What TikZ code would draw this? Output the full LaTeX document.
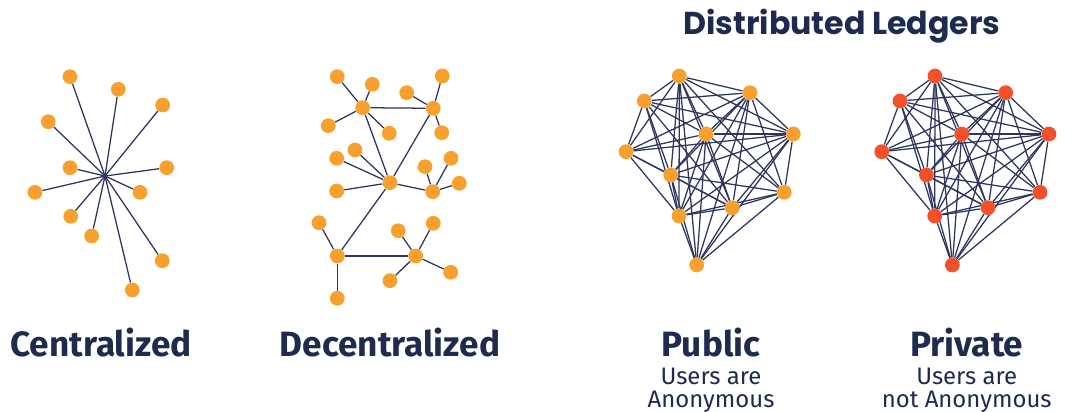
\documentclass[tikz,border=0pt]{standalone}
\usepackage{fontspec}
\setmainfont{Fira Sans}
\newfontfamily\headfont{Poppins}
\usepackage{tikz}
\usetikzlibrary{backgrounds}
\definecolor{navy}{HTML}{1E2B4F}
\definecolor{edgeblue}{HTML}{2C365E}
\definecolor{dotorange}{HTML}{F8A02E}
\definecolor{dotred}{HTML}{F4502A}
\tikzstyle{link} = [draw, edgeblue, line width=0.9pt]
\tikzstyle{dot} = [circle, fill=dotorange, inner sep=0, minimum size=10.5pt]
\tikzstyle{reddot} = [dot, fill=dotred]
\tikzstyle{title} = [navy, anchor=base, font=\bfseries\fontsize{25}{29}\selectfont]
\tikzstyle{subtitle} = [navy, anchor=base, font=\fontsize{17}{20}\selectfont]

\newcommand{\ledgergraph}[1]{%
\node at (679.3, 76) [#1] (l1) {};
\node at (750, 92.7) [#1] (l2) {};
\node at (644.3, 101) [#1] (l3) {};
\node at (706, 134) [#1] (l4) {};
\node at (793.3, 134) [#1] (l5) {};
\node at (626, 151.7) [#1] (l6) {};
\node at (670.7, 175) [#1] (l7) {};
\node at (784.3, 192.3) [#1] (l8) {};
\node at (732.3, 207.7) [#1] (l9) {};
\node at (679, 216) [#1] (l10) {};
\node at (696.7, 265) [#1] (l11) {};
\begin{pgfonlayer}{background}
\foreach \a/\b in {1/2,1/3,1/4,1/5,1/6,1/7,1/8,1/9,1/10,1/11,
  2/3,2/4,2/5,2/6,2/7,2/8,2/9,2/10,2/11,
  3/4,3/5,3/6,3/7,3/9,3/10,
  4/5,4/6,4/7,4/8,4/9,4/10,4/11,
  5/6,5/7,5/8,5/9,5/10,5/11,
  6/7,6/9,6/10,
  7/8,7/9,7/10,7/11,
  8/9,8/10,8/11,
  9/10,9/11,
  10/11}
  \path [link] (l\a) -- (l\b);
\end{pgfonlayer}}

\begin{document}
\begin{tikzpicture}[x=0.025cm, y=-0.025cm]
\useasboundingbox (0, 0) rectangle (1071, 412);

% centralized
\coordinate (chub) at (105, 176);
\node at (70, 76.7) [dot] (c1) {};
\node at (118.3, 89.3) [dot] (c2) {};
\node at (162.7, 105) [dot] (c3) {};
\node at (48.3, 121.7) [dot] (c4) {};
\node at (70, 167.7) [dot] (c5) {};
\node at (166.7, 167.7) [dot] (c6) {};
\node at (35, 192.3) [dot] (c7) {};
\node at (140, 192.3) [dot] (c8) {};
\node at (70.7, 216.3) [dot] (c9) {};
\node at (91.7, 236) [dot] (c10) {};
\node at (162.3, 260.7) [dot] (c11) {};
\node at (132.3, 290) [dot] (c12) {};
\begin{pgfonlayer}{background}
\foreach \i in {1,...,12}
  \path [link] (chub) -- (c\i);
\end{pgfonlayer}
\node at (101, 356) [title] (central) {Centralized};

% decentralized
\node at (362.7, 107.7) [dot] (dA) {};
\node at (433.3, 108.3) [dot] (dB) {};
\node at (390, 182.7) [dot] (dC) {};
\node at (432.7, 191.7) [dot] (dD) {};
\node at (337.3, 256) [dot] (dE) {};
\node at (415.7, 256) [dot] (dF) {};
\node at (337.3, 76.7) [dot] (dA1) {};
\node at (372.3, 84.3) [dot] (dA2) {};
\node at (328.3, 125.7) [dot] (dA3) {};
\node at (389.3, 133.3) [dot] (dA4) {};
\node at (442.3, 76) [dot] (dB1) {};
\node at (406.7, 92.7) [dot] (dB2) {};
\node at (441.7, 132.7) [dot] (dB3) {};
\node at (355, 150) [dot] (dC1) {};
\node at (336.7, 158.3) [dot] (dC2) {};
\node at (336.7, 191) [dot] (dC3) {};
\node at (425, 166.7) [dot] (dD1) {};
\node at (451, 158.3) [dot] (dD2) {};
\node at (459.3, 183.3) [dot] (dD3) {};
\node at (319, 222.7) [dot] (dE1) {};
\node at (337.3, 298.3) [dot] (dE2) {};
\node at (433.3, 223.3) [dot] (dF1) {};
\node at (398.3, 230.7) [dot] (dF2) {};
\node at (450.7, 272.3) [dot] (dF3) {};
\node at (390, 280.7) [dot] (dF4) {};
\begin{pgfonlayer}{background}
\path [link] (dA) -- (dA1);
\path [link] (dA) -- (dA2);
\path [link] (dA) -- (dA3);
\path [link] (dA) -- (dA4);
\path [link] (dA) -- (dB);
\path [link] (dA) -- (dC);
\path [link] (dB) -- (dB1);
\path [link] (dB) -- (dB2);
\path [link] (dB) -- (dB3);
\path [link] (dB) -- (dC);
\path [link] (dC) -- (dC1);
\path [link] (dC) -- (dC2);
\path [link] (dC) -- (dC3);
\path [link] (dC) -- (dD);
\path [link] (dC) -- (dE);
\path [link] (dD) -- (dD1);
\path [link] (dD) -- (dD2);
\path [link] (dD) -- (dD3);
\path [link] (dE) -- (dE1);
\path [link] (dE) -- (dE2);
\path [link] (dE) -- (dF);
\path [link] (dF) -- (dF1);
\path [link] (dF) -- (dF2);
\path [link] (dF) -- (dF3);
\path [link] (dF) -- (dF4);
\end{pgfonlayer}
\node at (390, 356) [title] (decentral) {Decentralized};

% distributed ledgers
\node at (842, 35) [navy, anchor=base, font=\headfont\bfseries\fontsize{22.5}{26}\selectfont] (ledgers) {Distributed Ledgers};

\begin{scope}
\ledgergraph{dot}
\node at (711, 356) [title] (public) {Public};
\node at (711, 384) [subtitle] (pub1) {Users are};
\node at (711, 407) [subtitle] (pub2) {Anonymous};
\end{scope}

\begin{scope}[shift={(255.7, 0)}]
\ledgergraph{reddot}
\node at (711, 356) [title] (private) {Private};
\node at (711, 384) [subtitle] (priv1) {Users are};
\node at (711, 407) [subtitle] (priv2) {not Anonymous};
\end{scope}
\end{tikzpicture}
\end{document}
